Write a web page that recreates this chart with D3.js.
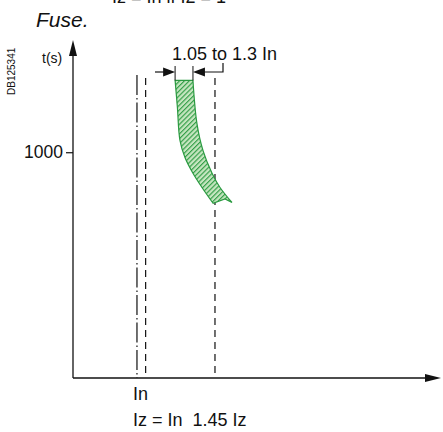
<!DOCTYPE html>
<html>
<head>
<meta charset="utf-8">
<script src="https://cdn.jsdelivr.net/npm/d3@7"></script>
<style>
  body { margin: 0; background: #fff; }
  text { font-family: "Liberation Sans", Arial, sans-serif; }
</style>
</head>
<body>
<svg id="plot" width="443" height="432"></svg>
<script>
// y ticks (time, seconds, log)
const yTicks = [1000];
// vertical reference lines, in multiples of In
const refLines = [
  { v: 1.0, kind: "dashdot" },   // Iz = In
  { v: 1.05, kind: "dash" },
  { v: 1.45, kind: "dash" }      // 1.45 Iz
];
// fuse band edges: [current (x In), time (s)]
const bandLeft = [[1.22, 9000], [1.233, 4000], [1.248, 1440], [1.277, 850], [1.323, 525], [1.375, 340], [1.439, 210]];
const bandRight = [[1.323, 9000], [1.346, 2400], [1.381, 1050], [1.433, 525], [1.479, 340], [1.548, 215]];
const bandBottom = [[1.508, 240]];
const bracket = [1.22, 1.323];

const svg = d3.select("#plot");

const x = d3.scaleLinear().domain([0.631, 2.748]).range([73, 440]);
const y = d3.scaleLog().domain([1, 31000]).range([378, 40]);

// hatch pattern
const defs = svg.append("defs");
const pat = defs.append("pattern")
  .attr("id", "hatch")
  .attr("patternUnits", "userSpaceOnUse")
  .attr("width", 3.4).attr("height", 3.4)
  .attr("patternTransform", "rotate(-45)");
pat.append("rect").attr("width", 3.4).attr("height", 3.4).attr("fill", "#c6e6c0");
pat.append("line").attr("x1", 0).attr("y1", 0.6).attr("x2", 3.4).attr("y2", 0.6)
  .attr("stroke", "#2a9a40").attr("stroke-width", 1.1);

// top cut-off caption (only its lower edge shows in the reference)
svg.append("text").attr("x", 112).attr("y", 3)
  .attr("font-size", 18).attr("fill", "#111")
  .text("Iz = In if I2 = 1");

svg.append("text").attr("x", 36).attr("y", 27)
  .attr("font-size", 21).attr("font-style", "italic").attr("fill", "#111")
  .text("Fuse.");

svg.append("text")
  .attr("transform", "translate(15,95) rotate(-90)")
  .attr("font-size", 10).attr("fill", "#111")
  .text("DB125341");

// reference lines
refLines.forEach(function(r) {
  svg.append("line")
    .attr("x1", x(r.v)).attr("x2", x(r.v))
    .attr("y1", r.kind == "dashdot" ? 75 : 78).attr("y2", 378)
    .attr("stroke", "#111").attr("stroke-width", 1.2)
    .attr("stroke-dasharray", r.kind == "dashdot" ? "20,3,1.5,3" : "7,5");
});

// band
const edge = d3.line().x(d => x(d[0])).y(d => y(d[1])).curve(d3.curveCatmullRom);
svg.append("path")
  .attr("d", edge(bandLeft) + "L" + edge(bandBottom.concat([bandRight[bandRight.length-1]])).slice(1)
        + "L" + edge(bandRight.slice().reverse()).slice(1) + "Z")
  .attr("fill", "url(#hatch)")
  .attr("stroke", "#2a9a40").attr("stroke-width", 1.2);

// bracket annotation
const by = 72;
svg.append("line").attr("x1", x(bracket[0])).attr("x2", x(bracket[0])).attr("y1", 66).attr("y2", y(9000))
  .attr("stroke", "#111").attr("stroke-width", 1);
svg.append("line").attr("x1", x(bracket[1])).attr("x2", x(bracket[1])).attr("y1", 66).attr("y2", y(9000))
  .attr("stroke", "#111").attr("stroke-width", 1);
svg.append("line").attr("x1", 155).attr("x2", x(bracket[0]) - 8).attr("y1", by).attr("y2", by)
  .attr("stroke", "#111").attr("stroke-width", 1.2);
svg.append("path")
  .attr("d", `M${x(bracket[0])},${by} l-12,-4.5 l0,9 Z`).attr("fill", "#111");
svg.append("path")
  .attr("d", `M${x(bracket[1]) + 8},${by} L223,${by} L223,63`)
  .attr("fill", "none").attr("stroke", "#111").attr("stroke-width", 1.2);
svg.append("path")
  .attr("d", `M${x(bracket[1])},${by} l12,-4.5 l0,9 Z`).attr("fill", "#111");
svg.append("text").attr("x", 172).attr("y", 60)
  .attr("font-size", 18).attr("fill", "#111")
  .text("1.05 to 1.3 In");

// axes
svg.append("line").attr("x1", 73).attr("x2", 73).attr("y1", 50).attr("y2", 378)
  .attr("stroke", "#111").attr("stroke-width", 1.3);
svg.append("path").attr("d", "M73,40 L77,56 L69,56 Z").attr("fill", "#111");
svg.append("line").attr("x1", 73).attr("x2", 430).attr("y1", 378).attr("y2", 378)
  .attr("stroke", "#111").attr("stroke-width", 1.3);
svg.append("path").attr("d", "M441,378 L425,374 L425,382 Z").attr("fill", "#111");

const yAxis = svg.append("g").attr("transform", "translate(73,0)")
  .call(d3.axisLeft(y).tickValues(yTicks).tickSize(7).tickPadding(3).tickFormat(d3.format("d")));
yAxis.select(".domain").remove();
yAxis.selectAll("line").attr("stroke", "#111").attr("stroke-width", 1.2);
yAxis.selectAll("text").attr("font-size", 17.5).attr("fill", "#111")
  .attr("font-family", "Liberation Sans, Arial, sans-serif");

svg.append("text").attr("x", 42).attr("y", 63)
  .attr("font-size", 14).attr("fill", "#111").text("t(s)");

svg.append("text").attr("x", x(1) - 4).attr("y", 400)
  .attr("font-size", 18).attr("fill", "#111").text("In");
svg.append("text").attr("x", x(1) - 4).attr("y", 426)
  .attr("font-size", 18).attr("fill", "#111").attr("xml:space", "preserve")
  .text("Iz = In  1.45 Iz");
</script>
</body>
</html>
